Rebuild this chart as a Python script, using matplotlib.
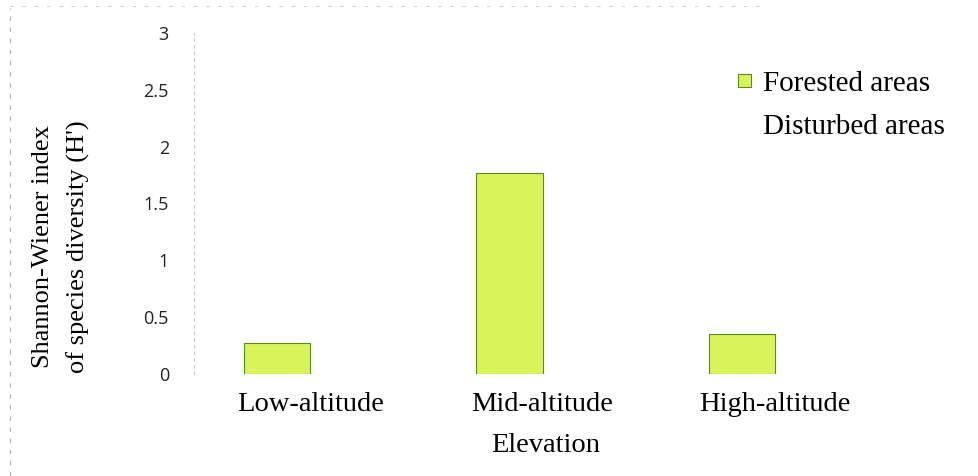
import matplotlib
matplotlib.use("Agg")
import matplotlib.pyplot as plt
from matplotlib.lines import Line2D
import numpy as np

# data
categories = ["Low-altitude", "Mid-altitude", "High-altitude"]
forested = [0.27, 1.77, 0.35]
disturbed = [0.0, 0.0, 0.0]   # no visible bars in the picture
yticks = [0, 0.5, 1, 1.5, 2, 2.5, 3]
ytick_labels = ["0", "0.5", "1", "1.5", "2", "2.5", "3"]

W, H = 979, 476
fig = plt.figure(figsize=(W / 100, H / 100), dpi=100)
ax = fig.add_axes([194 / W, 1 - 374 / H, (891 - 194) / W, (374 - 33) / H])

serif = "Liberation Serif"
x = np.arange(len(categories))
bw = 0.285

ax.bar(x - bw / 2, forested, bw, color="#d8f45a", edgecolor="#5a8a22",
       linewidth=0.8, label="Forested areas")
ax.bar(x + bw / 2, disturbed, bw, color="white", edgecolor="none",
       label="Disturbed areas")

ax.set_xlim(-0.5, 2.5)
ax.set_ylim(0, 3)
ax.set_yticks(yticks)
ax.set_yticklabels(ytick_labels, fontsize=13, family="Open Sans", color="#222222")
ax.set_xticks(x)
ax.set_xticklabels(categories, fontsize=20.5, family=serif)
ax.tick_params(axis="y", length=0, pad=18)
ax.tick_params(axis="x", length=0, pad=13)

for s in ["top", "right", "bottom"]:
    ax.spines[s].set_visible(False)
ax.spines["left"].set_color("#c8c8c8")
ax.spines["left"].set_linestyle((0, (2, 4)))
ax.spines["left"].set_linewidth(0.8)

fig.text(546 / W, 1 - 445 / H, "Elevation", fontsize=20.5, family=serif,
         ha="center", va="center")
fig.text(61 / W, 1 - 247 / H, "Shannon-Wiener index\nof species diversity (H')",
         fontsize=19, family=serif, rotation=90, ha="center", va="center",
         multialignment="center", linespacing=1.75)

leg = ax.legend(loc="upper left", bbox_to_anchor=(738 / W, 1 - 71 / H),
                bbox_transform=fig.transFigure, frameon=False,
                prop={"family": serif, "size": 21}, handlelength=0.45,
                handleheight=0.3, handletextpad=0.4, labelspacing=0.6,
                borderaxespad=0, borderpad=0)

# faint scan border on the left and top
fig.add_artist(Line2D([10 / W, 10 / W], [0, 1 - 8 / H], transform=fig.transFigure,
                      color="#b0b0b0", linewidth=0.8, linestyle=(0, (4, 6))))
fig.add_artist(Line2D([10 / W, 0.78], [1 - 6 / H, 1 - 6 / H], transform=fig.transFigure,
                      color="#d0d0d0", linewidth=0.8, linestyle=(0, (3, 8))))

fig.savefig("out.png", dpi=100)
